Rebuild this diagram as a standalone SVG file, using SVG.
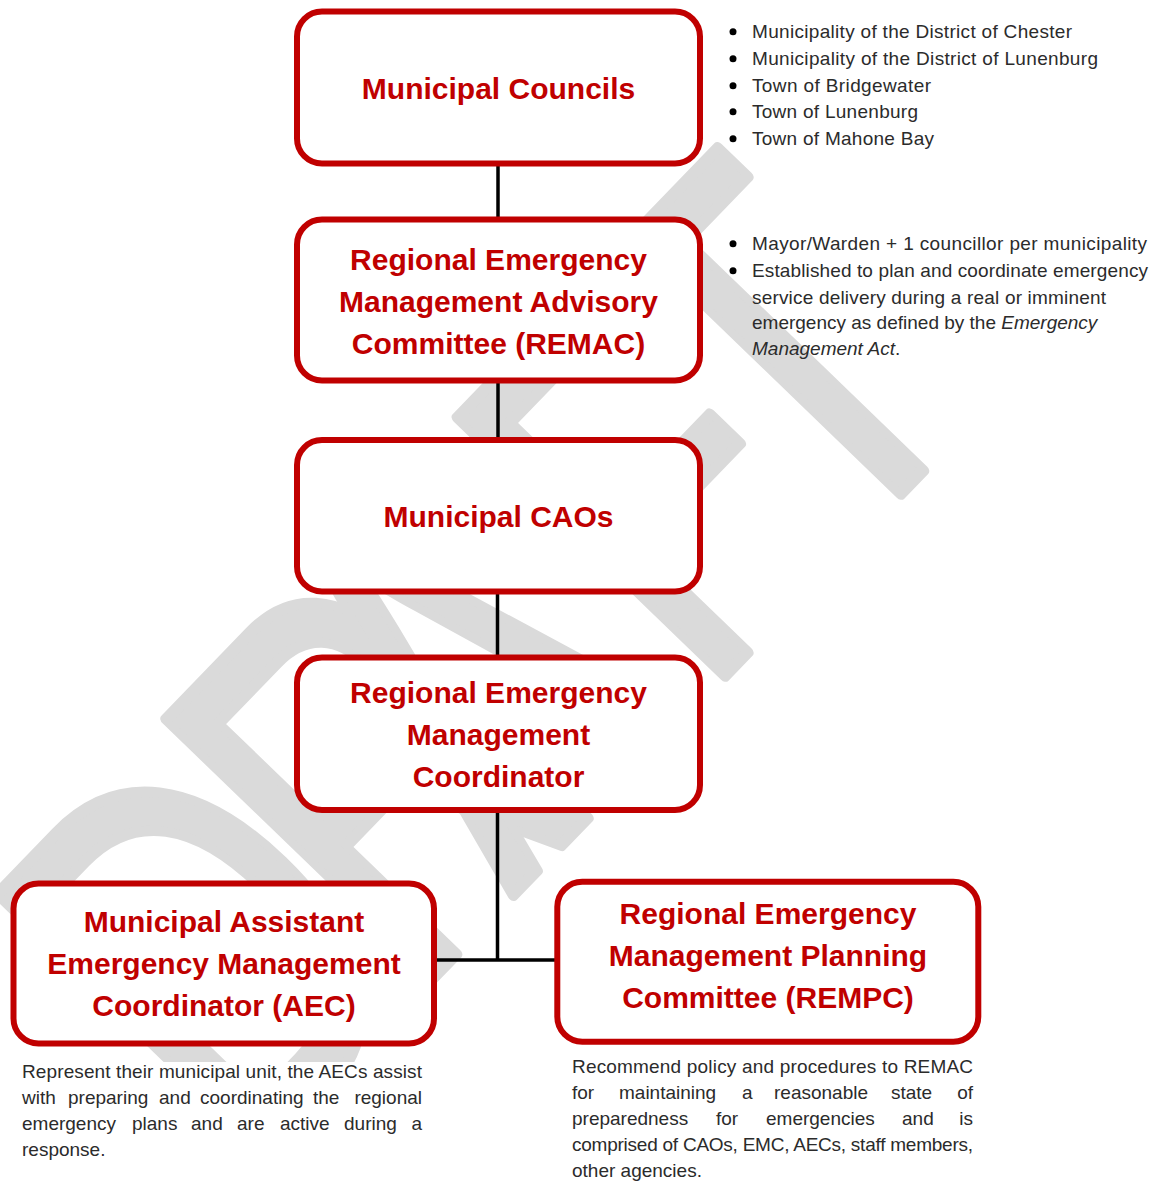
<svg xmlns="http://www.w3.org/2000/svg" width="1162" height="1181" viewBox="0 0 1162 1181">
  <defs>
    <style>
      .box { fill: #ffffff; stroke: #c00000; stroke-width: 6; }
      .title { font-family: "Liberation Sans", Arial, sans-serif; font-weight: bold; font-size: 30px; fill: #c00000; text-anchor: middle; }
      .note { font-family: "Liberation Sans", Arial, sans-serif; font-size: 19px; fill: #2b2b2b; }
      .dot { fill: #000000; }
      .wm { font-family: "Liberation Sans", Arial, sans-serif; font-size: 540px; fill: #dadada; stroke: #dadada; stroke-width: 12; stroke-linejoin: round; }
      .conn { stroke: #000; stroke-width: 3.5; fill: none; }
    </style>
  </defs>
  <rect width="1162" height="1181" fill="#ffffff"/>

  <g id="watermark">
    <text class="wm" transform="translate(912,482) rotate(-46) scale(0.7,1)"><tspan x="-1377">D</tspan><tspan x="-1030">R</tspan><tspan x="-823">A</tspan><tspan x="-431">F</tspan><tspan x="-165">T</tspan></text>
  </g>

  <g id="connectors">
    <path class="conn" d="M498 163.5 V219.5"/>
    <path class="conn" d="M498 380.5 V440"/>
    <path class="conn" d="M497.5 591.5 V657.5"/>
    <path class="conn" d="M497.5 810 V960"/>
    <path class="conn" d="M434 960 H557.3"/>
  </g>

  <g id="node-councils">
    <rect class="box" x="297" y="11.5" width="403" height="152" rx="25"/>
    <text class="title" x="498.5" y="99">Municipal Councils</text>
  </g>

  <g id="node-remac">
    <rect class="box" x="297" y="219.5" width="403" height="161" rx="25"/>
    <text class="title" x="498.5" y="270">Regional Emergency</text>
    <text class="title" x="498.5" y="312">Management Advisory</text>
    <text class="title" x="498.5" y="354">Committee (REMAC)</text>
  </g>

  <g id="node-caos">
    <rect class="box" x="297" y="440" width="403" height="151.5" rx="25"/>
    <text class="title" x="498.5" y="527">Municipal CAOs</text>
  </g>

  <g id="node-coordinator">
    <rect class="box" x="297" y="657.5" width="403" height="152.5" rx="25"/>
    <text class="title" x="498.5" y="703">Regional Emergency</text>
    <text class="title" x="498.5" y="745">Management</text>
    <text class="title" x="498.5" y="787">Coordinator</text>
  </g>

  <g id="node-aec">
    <rect class="box" x="13.5" y="883.5" width="420.5" height="160" rx="25"/>
    <text class="title" x="224" y="932">Municipal Assistant</text>
    <text class="title" x="224" y="974">Emergency Management</text>
    <text class="title" x="224" y="1016">Coordinator (AEC)</text>
  </g>

  <g id="node-rempc">
    <rect class="box" x="557.3" y="881.7" width="421" height="160" rx="25"/>
    <text class="title" x="768" y="924">Regional Emergency</text>
    <text class="title" x="768" y="966">Management Planning</text>
    <text class="title" x="768" y="1008">Committee (REMPC)</text>
  </g>

  <g id="councils-list">
    <circle class="dot" cx="733" cy="31.7" r="3.5"/>
    <circle class="dot" cx="733" cy="58.7" r="3.5"/>
    <circle class="dot" cx="733" cy="85.7" r="3.5"/>
    <circle class="dot" cx="733" cy="111.7" r="3.5"/>
    <circle class="dot" cx="733" cy="138.7" r="3.5"/>
    <text class="note" x="752" y="38" textLength="320" lengthAdjust="spacing">Municipality of the District of Chester</text>
    <text class="note" x="752" y="65" textLength="346" lengthAdjust="spacing">Municipality of the District of Lunenburg</text>
    <text class="note" x="752" y="92" textLength="179" lengthAdjust="spacing">Town of Bridgewater</text>
    <text class="note" x="752" y="118" textLength="166" lengthAdjust="spacing">Town of Lunenburg</text>
    <text class="note" x="752" y="145" textLength="182" lengthAdjust="spacing">Town of Mahone Bay</text>
  </g>

  <g id="remac-notes">
    <circle class="dot" cx="733" cy="243.7" r="3.5"/>
    <circle class="dot" cx="733" cy="270.7" r="3.5"/>
    <text class="note" x="752" y="250" textLength="395" lengthAdjust="spacing">Mayor/Warden + 1 councillor per municipality</text>
    <text class="note" x="752" y="277" textLength="396" lengthAdjust="spacing">Established to plan and coordinate emergency</text>
    <text class="note" x="752" y="304" textLength="354" lengthAdjust="spacing">service delivery during a real or imminent</text>
    <text class="note" x="752" y="329">emergency as defined by the <tspan font-style="italic">Emergency</tspan></text>
    <text class="note" x="752" y="355"><tspan font-style="italic">Management Act</tspan>.</text>
  </g>

  <g id="aec-notes">
    <rect x="0" y="1062" width="440" height="119" fill="#ffffff"/>
    <text class="note" x="22" y="1078" textLength="400" lengthAdjust="spacing">Represent their municipal unit, the AECs assist</text>
    <text class="note" y="1104"><tspan x="22">with</tspan><tspan x="68">preparing</tspan><tspan x="159">and</tspan><tspan x="200">coordinating</tspan><tspan x="313">the</tspan><tspan x="422" text-anchor="end">regional</tspan></text>
    <text class="note" y="1130"><tspan x="22">emergency</tspan><tspan x="132">plans</tspan><tspan x="191">and</tspan><tspan x="237">are</tspan><tspan x="280">active</tspan><tspan x="344">during</tspan><tspan x="422" text-anchor="end">a</tspan></text>
    <text class="note" x="22" y="1156">response.</text>
  </g>

  <g id="rempc-notes">
    <text class="note" x="572" y="1073" textLength="401" lengthAdjust="spacing">Recommend policy and procedures to REMAC</text>
    <text class="note" y="1099"><tspan x="572">for</tspan><tspan x="619">maintaining</tspan><tspan x="742">a</tspan><tspan x="774">reasonable</tspan><tspan x="891">state</tspan><tspan x="973" text-anchor="end">of</tspan></text>
    <text class="note" y="1125"><tspan x="572">preparedness</tspan><tspan x="716">for</tspan><tspan x="766">emergencies</tspan><tspan x="902">and</tspan><tspan x="973" text-anchor="end">is</tspan></text>
    <text class="note" x="572" y="1151" textLength="401" lengthAdjust="spacing">comprised of CAOs, EMC, AECs, staff members,</text>
    <text class="note" x="572" y="1177">other agencies.</text>
  </g>
</svg>
